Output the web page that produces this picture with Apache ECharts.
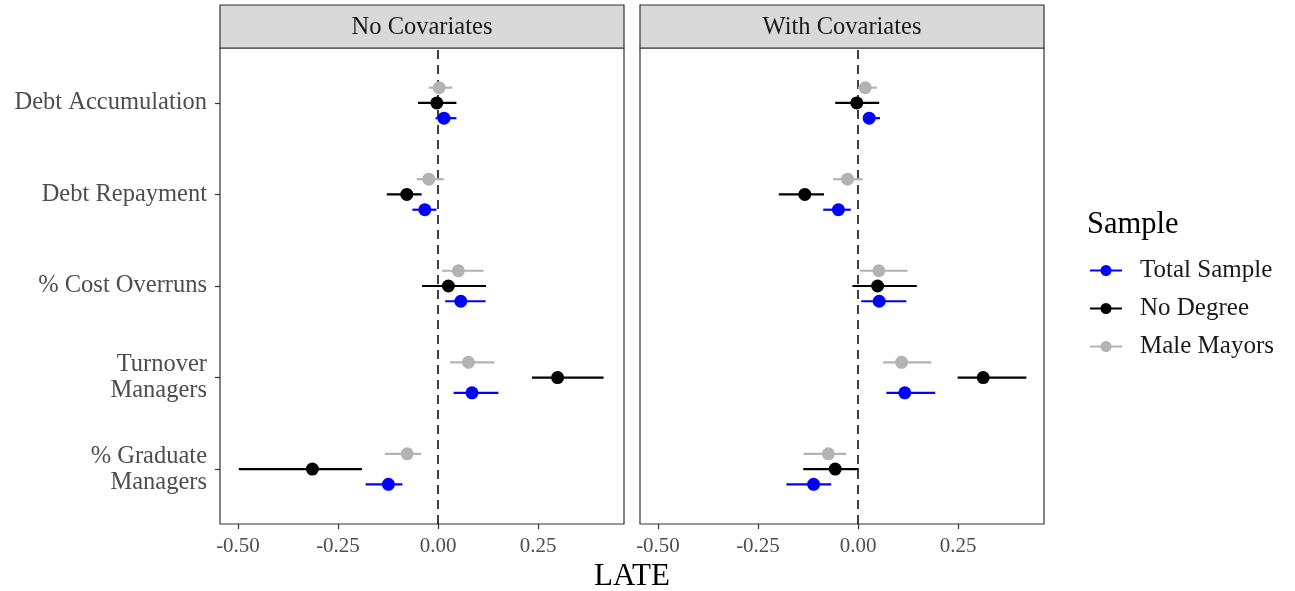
<!DOCTYPE html>
<html>
<head>
<meta charset="utf-8">
<script src="https://cdn.jsdelivr.net/npm/echarts@6/dist/echarts.min.js"></script>
<style>html,body{margin:0;padding:0;background:#fff;}#chart{width:1295px;height:591px;}</style>
</head>
<body>
<div id="chart"></div>
<script>
// ---------- data ----------
const CATEGORIES = ['Debt Accumulation', 'Debt Repayment', '% Cost Overruns', 'Turnover\nManagers', '% Graduate\nManagers'];
const PANELS = ['No Covariates', 'With Covariates'];
const GROUPS = ['Total Sample', 'No Degree', 'Male Mayors'];
const X_TICKS = [-0.5, -0.25, 0, 0.25];

// No Covariates
const NC_TOTAL_EST = [0.015, -0.033, 0.057, 0.085, -0.124];
const NC_TOTAL_LO  = [-0.006, -0.064, 0.018, 0.039, -0.181];
const NC_TOTAL_HI  = [0.046, -0.004, 0.119, 0.151, -0.089];
const NC_NODEG_EST = [-0.003, -0.078, 0.026, 0.299, -0.314];
const NC_NODEG_LO  = [-0.050, -0.128, -0.040, 0.235, -0.498];
const NC_NODEG_HI  = [0.046, -0.041, 0.120, 0.414, -0.190];
const NC_MALE_EST  = [0.003, -0.023, 0.051, 0.076, -0.077];
const NC_MALE_LO   = [-0.023, -0.053, 0.010, 0.030, -0.133];
const NC_MALE_HI   = [0.036, 0.014, 0.114, 0.141, -0.042];

// With Covariates
const WC_TOTAL_EST = [0.028, -0.049, 0.053, 0.117, -0.111];
const WC_TOTAL_LO  = [0.013, -0.087, 0.008, 0.071, -0.179];
const WC_TOTAL_HI  = [0.055, -0.018, 0.121, 0.193, -0.067];
const WC_NODEG_EST = [-0.003, -0.133, 0.049, 0.313, -0.057];
const WC_NODEG_LO  = [-0.057, -0.198, -0.014, 0.249, -0.137];
const WC_NODEG_HI  = [0.053, -0.085, 0.147, 0.421, 0.002];
const WC_MALE_EST  = [0.018, -0.026, 0.052, 0.109, -0.074];
const WC_MALE_LO   = [0.000, -0.062, 0.005, 0.063, -0.136];
const WC_MALE_HI   = [0.047, 0.012, 0.124, 0.183, -0.030];

// ---------- styling / layout ----------
const FONT = 'Liberation Serif';
const COLORS = {'Total Sample': '#0000ff', 'No Degree': '#000000', 'Male Mayors': '#b3b3b3'};
const DODGE = {'Total Sample': -0.1667, 'No Degree': 0, 'Male Mayors': 0.1667};
const PANEL_DATA = [
  {'Total Sample': [NC_TOTAL_EST, NC_TOTAL_LO, NC_TOTAL_HI],
   'No Degree': [NC_NODEG_EST, NC_NODEG_LO, NC_NODEG_HI],
   'Male Mayors': [NC_MALE_EST, NC_MALE_LO, NC_MALE_HI]},
  {'Total Sample': [WC_TOTAL_EST, WC_TOTAL_LO, WC_TOTAL_HI],
   'No Degree': [WC_NODEG_EST, WC_NODEG_LO, WC_NODEG_HI],
   'Male Mayors': [WC_MALE_EST, WC_MALE_LO, WC_MALE_HI]}
];
const N = CATEGORIES.length;
const yPos = i => N - i;

const grids = [
  {left: 220, top: 48, width: 404, height: 476, show: true, borderColor: '#333', borderWidth: 1.2, backgroundColor: '#fff'},
  {left: 640, top: 48, width: 404, height: 476, show: true, borderColor: '#333', borderWidth: 1.2, backgroundColor: '#fff'}
];

const xAxes = [0, 1].map(g => ({
  type: 'value', gridIndex: g, min: -0.545, max: 0.465, position: 'bottom',
  axisLine: {show: false, onZero: false}, splitLine: {show: false},
  axisTick: {show: true, length: 5, customValues: X_TICKS, lineStyle: {color: '#333', width: 1.2}},
  axisLabel: {show: true, customValues: X_TICKS, formatter: v => v.toFixed(2), color: '#4d4d4d',
              fontFamily: FONT, fontSize: 21, margin: 12}
}));

const Y_TICKS = CATEGORIES.map((c, i) => yPos(i));
const yAxes = [0, 1].map(g => ({
  type: 'value', gridIndex: g, min: 0.4, max: 5.6, position: 'left',
  axisLine: {show: false, onZero: false}, splitLine: {show: false},
  axisTick: {show: g === 0, length: 5, customValues: Y_TICKS, lineStyle: {color: '#333', width: 1.2}},
  axisLabel: {show: g === 0, customValues: Y_TICKS,
              formatter: v => CATEGORIES[N - Math.round(v)],
              color: '#4d4d4d', fontFamily: FONT, fontSize: 24.5, lineHeight: 26, margin: 13, align: 'right',
              padding: [11, 0, 0, 0]}
}));

const series = [];
PANEL_DATA.forEach((pd, g) => {
  GROUPS.forEach(name => {
    const [est, lo, hi] = pd[name];
    const color = COLORS[name];
    series.push({
      type: 'custom', name: name + ' CI', xAxisIndex: g, yAxisIndex: g, z: 3, silent: true,
      data: est.map((e, i) => [lo[i], hi[i], yPos(i) + DODGE[name]]),
      encode: {x: [0, 1], y: 2},
      renderItem: (params, api) => {
        const y = api.value(2);
        const p1 = api.coord([api.value(0), y]);
        const p2 = api.coord([api.value(1), y]);
        return {type: 'line', shape: {x1: p1[0], y1: p1[1], x2: p2[0], y2: p2[1]},
                style: {stroke: color, lineWidth: 2.2}};
      }
    });
  });
});
PANEL_DATA.forEach((pd, g) => {
  GROUPS.forEach((name, k) => {
    const [est] = pd[name];
    const s = {
      type: 'scatter', name: name, xAxisIndex: g, yAxisIndex: g, z: 4, silent: true,
      symbol: 'circle', symbolSize: 13, itemStyle: {color: COLORS[name], opacity: 1},
      data: est.map((e, i) => [e, yPos(i) + DODGE[name]])
    };
    if (k === 0) {
      s.markLine = {silent: true, symbol: ['none', 'none'], label: {show: false}, z: 2,
        lineStyle: {color: '#000', width: 1.5, type: [9, 6]},
        data: [{xAxis: 0}]};
    }
    series.push(s);
  });
});

const graphics = [];
PANELS.forEach((p, g) => {
  const left = grids[g].left;
  graphics.push({type: 'rect', shape: {x: left, y: 5, width: 404, height: 43},
    style: {fill: '#d9d9d9', stroke: '#333', lineWidth: 1.2}, z: 10});
  graphics.push({type: 'text', x: left + 202, y: 28, z: 11,
    style: {text: p, fill: '#1a1a1a', font: '24.5px "' + FONT + '"', align: 'center', verticalAlign: 'middle'}});
});
graphics.push({type: 'text', x: 632, y: 577, z: 11,
  style: {text: 'LATE', fill: '#000', font: '31px "' + FONT + '"', align: 'center', verticalAlign: 'middle'}});
graphics.push({type: 'text', x: 1087, y: 225, z: 11,
  style: {text: 'Sample', fill: '#000', font: '30.5px "' + FONT + '"', align: 'left', verticalAlign: 'middle'}});

const chart = echarts.init(document.getElementById('chart'), null, {renderer: 'canvas'});
chart.setOption({
  backgroundColor: '#fff',
  animation: false,
  grid: grids, xAxis: xAxes, yAxis: yAxes, series: series,
  legend: {
    data: GROUPS, orient: 'vertical', left: 1085, top: 253, itemGap: 13,
    itemWidth: 32, itemHeight: 12, selectedMode: false,
    icon: 'path://M0,5 L32,5 L32,7 L0,7 Z M21.5,6 A5.5,5.5 0 1,1 10.5,6 A5.5,5.5 0 1,1 21.5,6 Z',
    textStyle: {fontFamily: FONT, fontSize: 25, color: '#1a1a1a', lineHeight: 24, padding: [0, 0, 0, 13]}
  },
  graphic: graphics
});
</script>
</body>
</html>
